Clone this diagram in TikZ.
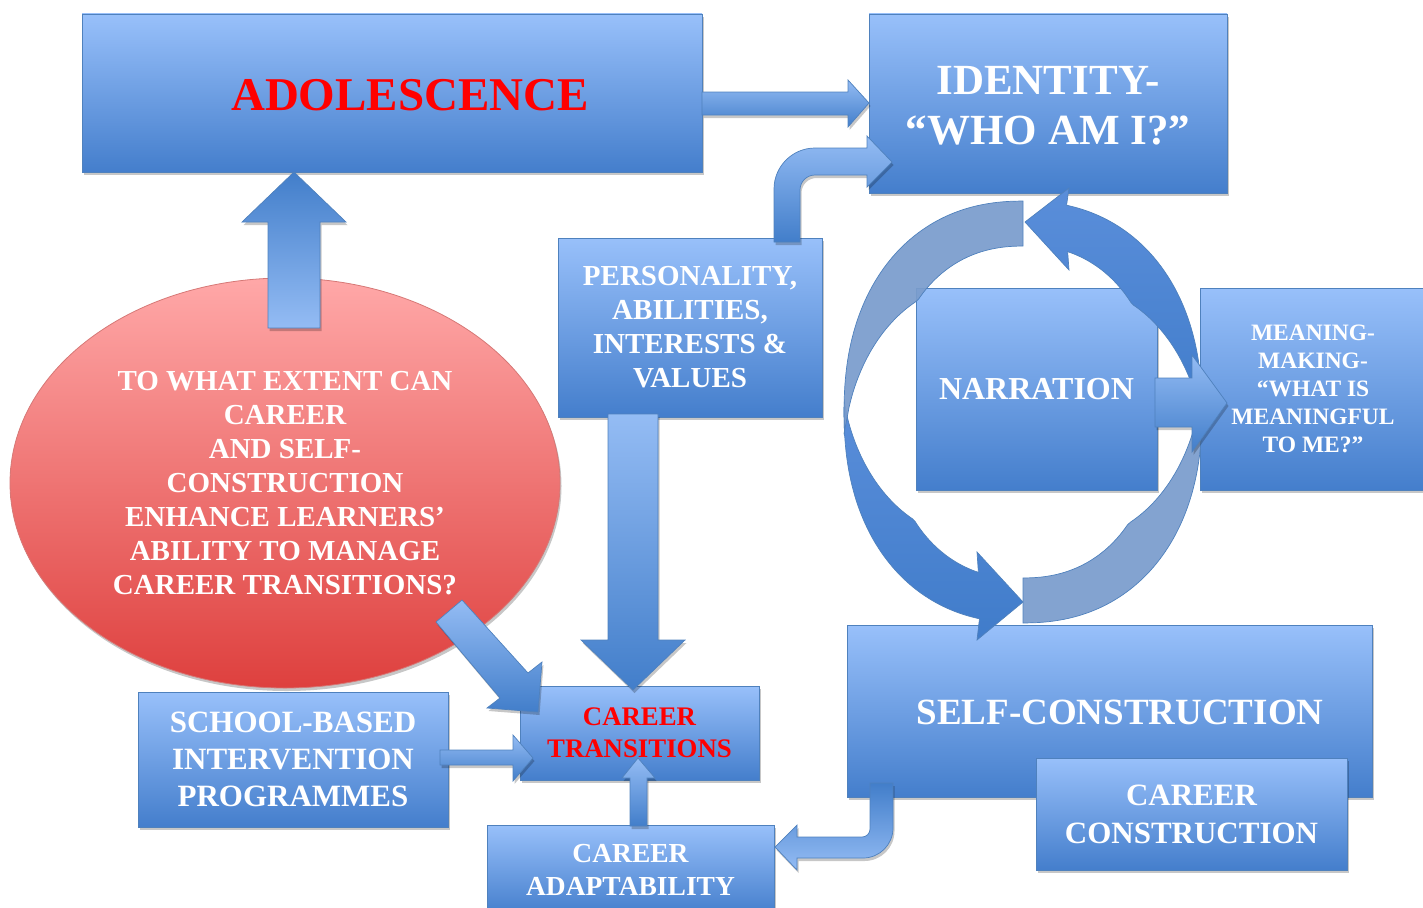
\documentclass[tikz,border=0pt]{standalone}
\usepackage{fontspec}
\setmainfont{Liberation Serif}
\usetikzlibrary{shapes.geometric,shadows}
\definecolor{boxtop}{RGB}{152,192,250}
\definecolor{boxbot}{RGB}{68,126,204}
\definecolor{boxline}{RGB}{79,129,189}
\definecolor{arrlight}{RGB}{148,188,244}
\definecolor{arrdark}{RGB}{66,126,202}
\definecolor{ringlight}{RGB}{122,156,204}
\definecolor{ringtop}{RGB}{90,142,218}
\definecolor{ringbot}{RGB}{64,124,202}
\definecolor{elltop}{RGB}{255,168,168}
\definecolor{ellbot}{RGB}{222,64,62}
\definecolor{ellline}{RGB}{214,120,118}
\definecolor{redtext}{RGB}{255,0,0}
\begin{document}
\begin{tikzpicture}[x=1pt,y=-1pt,
  declare function={rcx(\t)=cos(\t)/pow(abs(cos(\t))+0.00001,0.1);
                    rcy(\t)=sin(\t)/pow(abs(sin(\t))+0.00001,0.1);},
  shadowed/.style={drop shadow={shadow xshift=1.5pt,shadow yshift=-3pt,opacity=0.22,fill=black}},
  bluebox/.style={rectangle,draw=boxline,line width=0.8pt,top color=boxtop,bottom color=boxbot,
    inner sep=0pt,shadowed,text=white,align=center},
  blockarrow/.style={draw=boxline,line width=0.7pt,top color=arrlight,bottom color=arrdark,shadowed},
  uparrow/.style={draw=boxline,line width=0.7pt,top color=arrdark,bottom color=arrlight,shadowed},
  ringdark/.style={draw=boxline,line width=0.7pt,top color=ringtop,bottom color=ringbot},
  ringpale/.style={draw=boxline,line width=0.7pt,fill=ringlight,fill opacity=0.93},
  lbl/.style={text=white,align=center,inner sep=0pt}
]
\useasboundingbox (0,0) rectangle (1423,907);
\clip (0,0) rectangle (1423,907);

% ---- boxes ----
\node[bluebox,minimum width=620pt,minimum height=158pt] (adolbox) at (392,93) {};
\node[lbl,text=redtext,font=\bfseries\fontsize{47}{56}\selectfont] (adol) at (410,95) {ADOLESCENCE};

\node[bluebox,minimum width=358pt,minimum height=179pt] (identbox) at (1048,103.5) {};
\node[lbl,font=\bfseries\fontsize{43}{50}\selectfont] (ident) at (1048,106) {IDENTITY-\\“WHO AM I?”};

\node[bluebox,minimum width=264pt,minimum height=179pt,font=\bfseries\fontsize{29}{34}\selectfont]
  (pers) at (690,327.5) {PERSONALITY,\\ABILITIES,\\INTERESTS \&\\VALUES};

\node[bluebox,minimum width=241pt,minimum height=202pt,font=\bfseries\fontsize{32}{38}\selectfont]
  (narr) at (1036.5,389) {NARRATION};

\node[bluebox,minimum width=226pt,minimum height=202pt,font=\bfseries\fontsize{23.5}{28}\selectfont]
  (mean) at (1313,389) {MEANING-\\MAKING-\\“WHAT IS\\MEANINGFUL\\TO ME?”};

\node[bluebox,minimum width=525pt,minimum height=172pt] (selfbox) at (1109.5,711) {};
\node[lbl,font=\bfseries\fontsize{37}{44}\selectfont] (self) at (1120,712) {SELF-CONSTRUCTION};

\node[bluebox,minimum width=311pt,minimum height=112pt,font=\bfseries\fontsize{31}{38}\selectfont]
  (ccons) at (1191.5,814) {CAREER\\CONSTRUCTION};

\node[bluebox,minimum width=239pt,minimum height=94pt,text=redtext,font=\bfseries\fontsize{26.8}{32}\selectfont]
  (trans) at (639.5,733) {CAREER\\TRANSITIONS};

\node[bluebox,minimum width=310pt,minimum height=135pt,font=\bfseries\fontsize{31}{37}\selectfont]
  (school) at (293,759.5) {SCHOOL-BASED\\INTERVENTION\\PROGRAMMES};

\node[bluebox,minimum width=287pt,minimum height=90pt,font=\bfseries\fontsize{27.5}{33}\selectfont]
  (adapt) at (630.5,870) {CAREER\\ADAPTABILITY};

\node[ellipse,minimum width=550pt,minimum height=410pt,inner sep=0pt,top color=elltop,bottom color=ellbot,
  draw=ellline,line width=0.8pt,shadowed,text=white,align=center,font=\bfseries\fontsize{29}{34}\selectfont]
  (quest) at (285,483) {TO WHAT EXTENT CAN\\CAREER\\AND SELF-\\CONSTRUCTION\\ENHANCE LEARNERS’\\ABILITY TO MANAGE\\CAREER TRANSITIONS?};

% ---- block arrows ----
% question -> adolescence
\path[uparrow] (268,328) -- (268,222) -- (242,222) -- (294,172) -- (346,222) -- (320,222) -- (320,328) -- cycle;
% adolescence -> identity
\path[blockarrow] (702,92) -- (848,92) -- (848,80) -- (869,103) -- (848,127) -- (848,115) -- (702,115) -- cycle;
% personality -> identity (bent)
\path[blockarrow] (774,242) -- (774,189) .. controls (774,166.4) and (792.4,148) .. (815,148) -- (867,148)
  -- (867,136) -- (892,162) -- (867,187) -- (867,175) -- (815,175)
  .. controls (806.7,175) and (800,181.7) .. (800,190) -- (800,242) -- cycle;
% personality -> transitions
\path[blockarrow] (608,414) -- (608,640) -- (581,640) -- (633,690) -- (685,640) -- (658,640) -- (658,414) -- cycle;
% question -> transitions (diagonal)
\path[blockarrow] (436,622) -- (500,698) -- (487,708) -- (538,712) -- (542,662) -- (528,673) -- (462,600) -- cycle;
% school -> transitions
\path[blockarrow] (440,750) -- (513,750) -- (513,735) -- (533,758) -- (513,781) -- (513,765) -- (440,765) -- cycle;
% adaptability -> transitions
\path[blockarrow] (630,826) -- (630,778) -- (622,778) -- (638,758) -- (655,778) -- (647,778) -- (647,826) -- cycle;
% self-construction -> adaptability (bent)
\path[uparrow] (893,783) -- (893,828) .. controls (893,844.6) and (879.6,858) .. (863,858) -- (797,858)
  -- (797,870) -- (775,847) -- (797,825) -- (797,837) -- (862,837)
  .. controls (866.4,837) and (870,833.4) .. (870,829) -- (870,783) -- cycle;

% ---- circular arrows ----
\path[ringdark] plot[domain=182:102,samples=60] ({1023+179*rcx(\x)},{412+211*rcy(\x)})
  -- (977,640) -- (1023,602) -- (977,552)
  -- plot[domain=107:182,samples=60] ({1023+(179-44*min(1,(182-\x)/40))*rcx(\x)},{412+(211-44*min(1,(182-\x)/40))*rcy(\x)})
  -- cycle;
\path[ringdark] plot[domain=2:-78,samples=60] ({1023+179*rcx(\x)},{412+211*rcy(\x)})
  -- (1069,188) -- (1025,222) -- (1069,270)
  -- plot[domain=-73:2,samples=60] ({1023+(179-44*min(1,(2-\x)/40))*rcx(\x)},{412+(211-44*min(1,(2-\x)/40))*rcy(\x)})
  -- cycle;
\path[ringpale] plot[domain=270:176,samples=60] ({1023+179*rcx(\x)},{412+211*rcy(\x)})
  -- plot[domain=176:270,samples=60] ({1023+(179-45*min(1,(\x-176)/44))*rcx(\x)},{412+(211-45*min(1,(\x-176)/44))*rcy(\x)})
  -- cycle;
\path[ringpale] plot[domain=90:-4,samples=60] ({1023+179*rcx(\x)},{412+211*rcy(\x)})
  -- plot[domain=-4:90,samples=60] ({1023+(179-45*min(1,(\x+4)/44))*rcx(\x)},{412+(211-45*min(1,(\x+4)/44))*rcy(\x)})
  -- cycle;

% narration -> meaning
\path[blockarrow] (1155,378) -- (1192,378) -- (1192,355) -- (1227,403) -- (1192,452) -- (1192,427) -- (1155,427) -- cycle;
\end{tikzpicture}
\end{document}
